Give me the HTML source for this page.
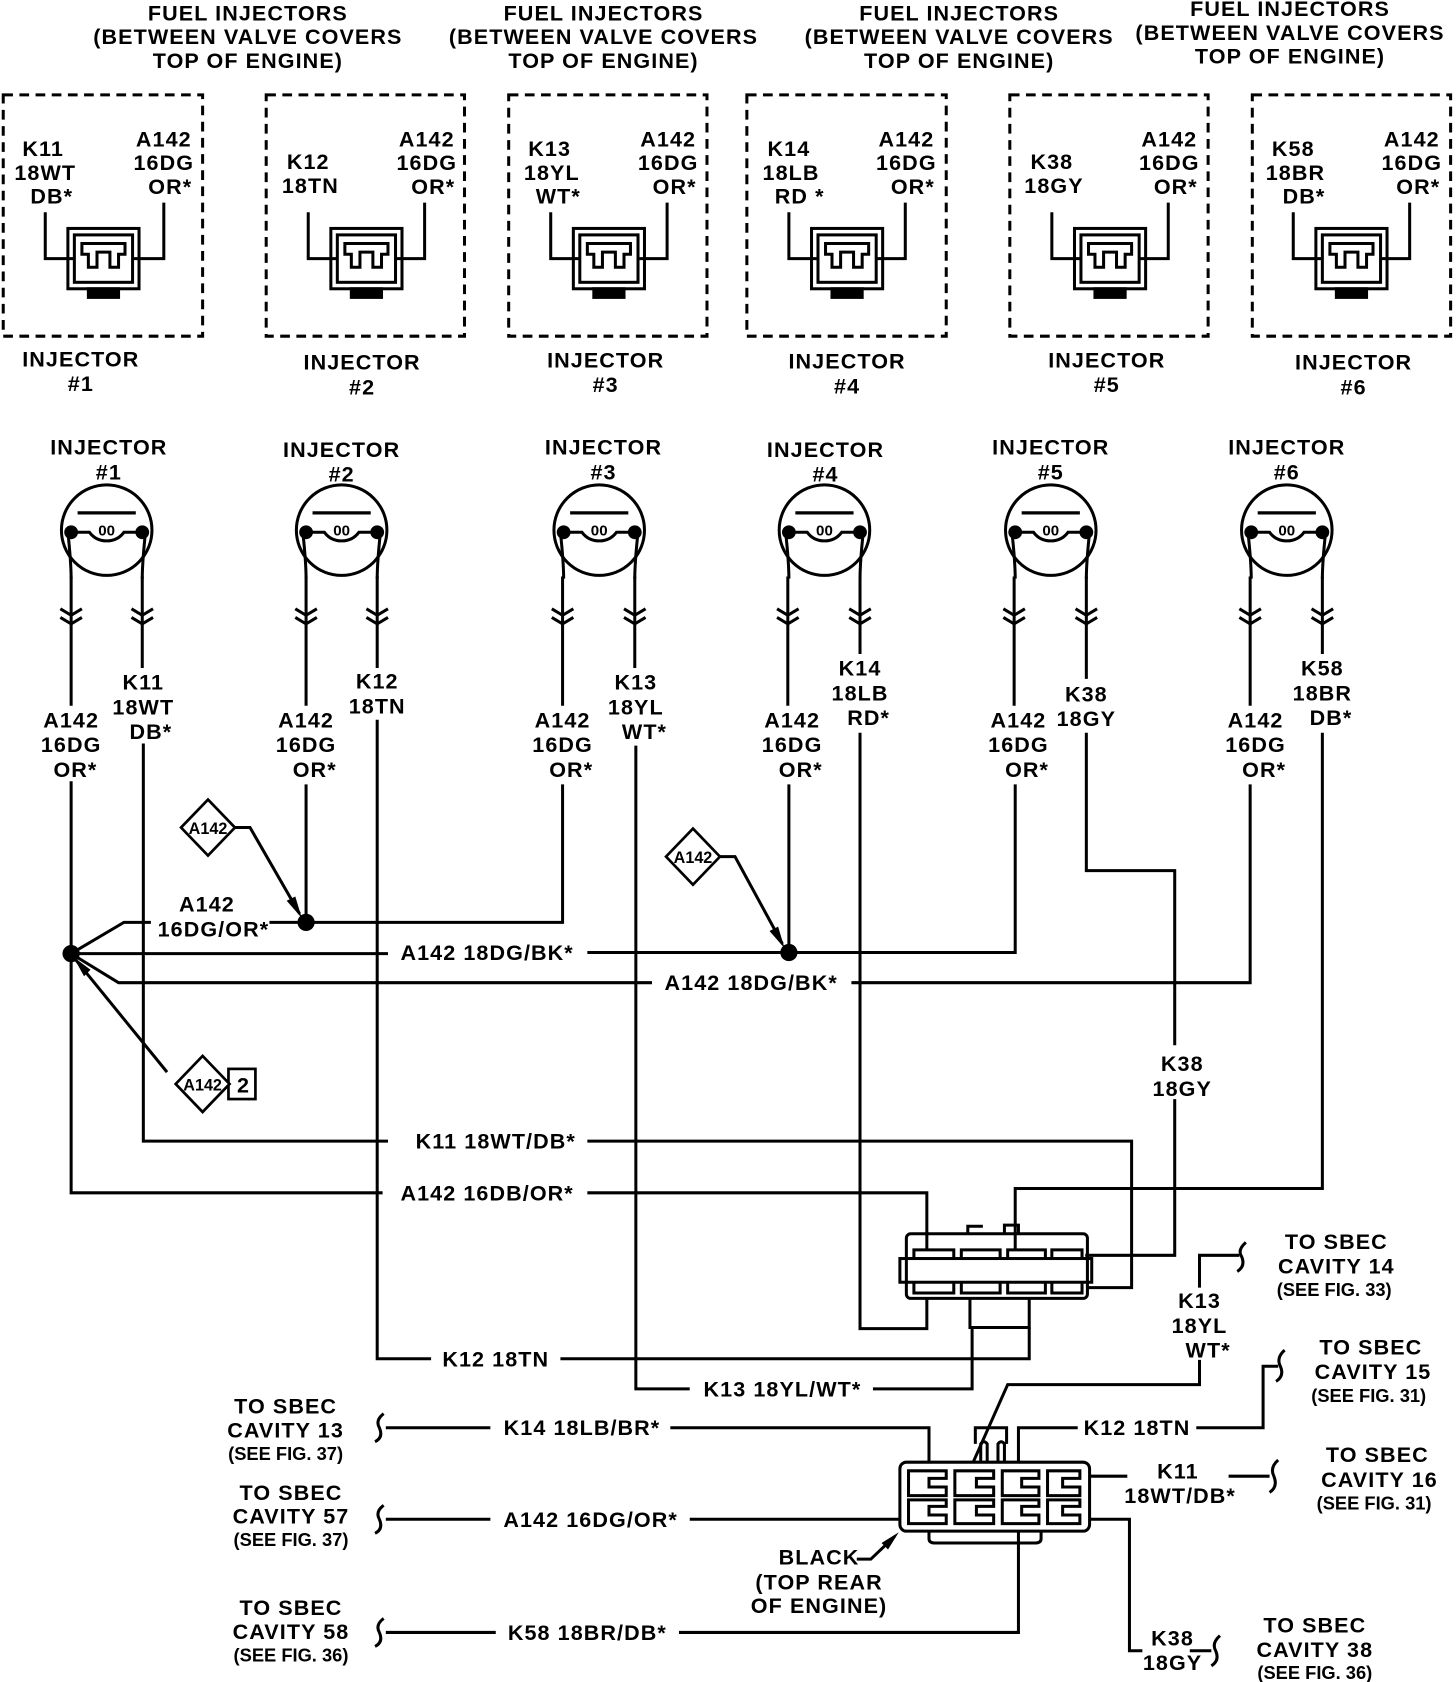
<!DOCTYPE html>
<html><head><meta charset="utf-8"><style>
html,body{margin:0;padding:0;background:#fff}
svg{display:block}
text{font-family:"Liberation Sans",sans-serif;font-weight:bold;font-size:20px;fill:#000;text-anchor:middle;letter-spacing:1px}
.s{font-size:17px;letter-spacing:0}
.o{font-size:14px;letter-spacing:0}
</style></head><body>
<svg width="1456" height="1682" viewBox="0 0 1351 1561" preserveAspectRatio="none" xmlns="http://www.w3.org/2000/svg">
<defs>
<g id="inj" fill="none" stroke="#000" stroke-width="2.8">
<circle cx="0" cy="0" r="42"/>
<line x1="-27" y1="-16" x2="27" y2="-16" stroke-width="3"/>
<path d="M-33 2 H-16 Q-10 10 0 10 Q10 10 16 2 H33"/>
<circle cx="-33" cy="2" r="5" fill="#000"/><circle cx="33" cy="2" r="5" fill="#000"/>
<path d="M-36 2 Q-33 30 -33 45 M36 2 Q33 30 33 45"/>
</g>
<g id="chev" fill="none" stroke="#000" stroke-width="2.8"><path d="M-10 0 L0 6 L10 0 M-10 8 L0 14 L10 8"/></g>
<g id="conn" fill="none" stroke="#000" stroke-width="2.8">
<rect x="-33" y="0" width="66" height="56"/>
<rect x="-27" y="6" width="54" height="44"/>
<path d="M-20 14 H20 V24 H14 V36 H6 V22 H-6 V36 H-14 V24 H-20 Z"/>
<rect x="-14" y="56" width="28" height="8" fill="#000"/>
</g>
</defs>
<g fill="none" stroke="#000" stroke-width="2.8">
<g stroke-dasharray="9,6">
<rect x="3" y="88" width="185" height="224"/><rect x="247" y="88" width="184" height="224"/>
<rect x="472" y="88" width="184" height="224"/><rect x="693" y="88" width="185" height="224"/>
<rect x="937" y="88" width="184" height="224"/><rect x="1162" y="88" width="184" height="224"/>
</g>
</g>
<use href="#conn" x="96" y="212"/><use href="#conn" x="340" y="212"/><use href="#conn" x="565" y="212"/>
<use href="#conn" x="786" y="212"/><use href="#conn" x="1030" y="212"/><use href="#conn" x="1254" y="212"/>
<g fill="none" stroke="#000" stroke-width="2.8">
<path d="M42 197 V240 H69 M152 188 V240 H123"/>
<path d="M286 197 V240 H313 M394 188 V240 H367"/>
<path d="M511 197 V240 H538 M619 188 V240 H592"/>
<path d="M732 197 V240 H759 M840 188 V240 H813"/>
<path d="M976 197 V240 H1003 M1084 188 V240 H1057"/>
<path d="M1200 197 V240 H1227 M1308 188 V240 H1281"/>
</g>
<text x="230" y="19">FUEL INJECTORS</text><text x="230" y="41">(BETWEEN VALVE COVERS</text><text x="230" y="63">TOP OF ENGINE)</text>
<text x="560" y="19">FUEL INJECTORS</text><text x="560" y="41">(BETWEEN VALVE COVERS</text><text x="560" y="63">TOP OF ENGINE)</text>
<text x="890" y="19">FUEL INJECTORS</text><text x="890" y="41">(BETWEEN VALVE COVERS</text><text x="890" y="63">TOP OF ENGINE)</text>
<text x="1197" y="15">FUEL INJECTORS</text><text x="1197" y="37">(BETWEEN VALVE COVERS</text><text x="1197" y="59">TOP OF ENGINE)</text>
<text x="40" y="145">K11</text><text x="42" y="167">18WT</text><text x="48" y="189">DB*</text>
<text x="152" y="136">A142</text><text x="152" y="158">16DG</text><text x="158" y="180">OR*</text>
<text x="286" y="157">K12</text><text x="288" y="179">18TN</text>
<text x="396" y="136">A142</text><text x="396" y="158">16DG</text><text x="402" y="180">OR*</text>
<text x="510" y="145">K13</text><text x="512" y="167">18YL</text><text x="518" y="189">WT*</text>
<text x="620" y="136">A142</text><text x="620" y="158">16DG</text><text x="626" y="180">OR*</text>
<text x="732" y="145">K14</text><text x="734" y="167">18LB</text><text x="742" y="189">RD *</text>
<text x="841" y="136">A142</text><text x="841" y="158">16DG</text><text x="847" y="180">OR*</text>
<text x="976" y="157">K38</text><text x="978" y="179">18GY</text>
<text x="1085" y="136">A142</text><text x="1085" y="158">16DG</text><text x="1091" y="180">OR*</text>
<text x="1200" y="145">K58</text><text x="1202" y="167">18BR</text><text x="1210" y="189">DB*</text>
<text x="1310" y="136">A142</text><text x="1310" y="158">16DG</text><text x="1316" y="180">OR*</text>
<text x="75" y="340">INJECTOR</text><text x="75" y="363">#1</text>
<text x="336" y="343">INJECTOR</text><text x="336" y="366">#2</text>
<text x="562" y="341">INJECTOR</text><text x="562" y="364">#3</text>
<text x="786" y="342">INJECTOR</text><text x="786" y="365">#4</text>
<text x="1027" y="341">INJECTOR</text><text x="1027" y="364">#5</text>
<text x="1256" y="343">INJECTOR</text><text x="1256" y="366">#6</text>
<text x="101" y="422">INJECTOR</text><text x="101" y="445">#1</text>
<text x="317" y="424">INJECTOR</text><text x="317" y="447">#2</text>
<text x="560" y="422">INJECTOR</text><text x="560" y="445">#3</text>
<text x="766" y="424">INJECTOR</text><text x="766" y="447">#4</text>
<text x="975" y="422">INJECTOR</text><text x="975" y="445">#5</text>
<text x="1194" y="422">INJECTOR</text><text x="1194" y="445">#6</text>
<use href="#inj" x="99" y="492"/><use href="#inj" x="317" y="492"/><use href="#inj" x="556" y="492"/>
<use href="#inj" x="765" y="492"/><use href="#inj" x="975" y="492"/><use href="#inj" x="1194" y="492"/>
<text class="o" x="99" y="497">00</text><text class="o" x="317" y="497">00</text><text class="o" x="556" y="497">00</text>
<text class="o" x="765" y="497">00</text><text class="o" x="975" y="497">00</text><text class="o" x="1194" y="497">00</text>
<g fill="none" stroke="#000" stroke-width="2.8">
<path d="M66 535 V655 M132 535 V620 M284 535 V655 M350 535 V620 M522 535 V655 M589 535 V620 M731 535 V655 M798 535 V607 M941 535 V655 M1008 535 V630 M1160 535 V655 M1227 535 V607"/>
</g>
<use href="#chev" x="66" y="565"/><use href="#chev" x="132" y="565"/><use href="#chev" x="284" y="565"/><use href="#chev" x="350" y="565"/>
<use href="#chev" x="522" y="565"/><use href="#chev" x="589" y="565"/><use href="#chev" x="731" y="565"/><use href="#chev" x="798" y="565"/>
<use href="#chev" x="941" y="565"/><use href="#chev" x="1008" y="565"/><use href="#chev" x="1160" y="565"/><use href="#chev" x="1227" y="565"/>
<text x="66" y="675">A142</text><text x="66" y="698">16DG</text><text x="70" y="721">OR*</text>
<text x="133" y="640">K11</text><text x="133" y="663">18WT</text><text x="140" y="686">DB*</text>
<text x="284" y="675">A142</text><text x="284" y="698">16DG</text><text x="292" y="721">OR*</text>
<text x="350" y="639">K12</text><text x="350" y="662">18TN</text>
<text x="522" y="675">A142</text><text x="522" y="698">16DG</text><text x="530" y="721">OR*</text>
<text x="590" y="640">K13</text><text x="590" y="663">18YL</text><text x="598" y="686">WT*</text>
<text x="735" y="675">A142</text><text x="735" y="698">16DG</text><text x="743" y="721">OR*</text>
<text x="798" y="627">K14</text><text x="798" y="650">18LB</text><text x="806" y="673">RD*</text>
<text x="945" y="675">A142</text><text x="945" y="698">16DG</text><text x="953" y="721">OR*</text>
<text x="1008" y="651">K38</text><text x="1008" y="674">18GY</text>
<text x="1165" y="675">A142</text><text x="1165" y="698">16DG</text><text x="1173" y="721">OR*</text>
<text x="1227" y="627">K58</text><text x="1227" y="650">18BR</text><text x="1235" y="673">DB*</text>
<g fill="none" stroke="#000" stroke-width="2.8">
<path d="M66 725 V1107 H355 M133 690 V1059 H360"/>
<path d="M545 1059 H1050 V1195 H1010"/>
<path d="M545 1107 H860 V1160"/>
<path d="M284 728 V856 M350 668 V1261 H400"/>
<path d="M520 1261 H955 V1232"/>
<path d="M522 728 V856 H284 M590 692 V1289 H640"/>
<path d="M810 1289 H902 V1232"/>
<path d="M732 728 V884 M798 680 V1233 H860 V1205"/>
<path d="M942 728 V884 H545 M1008 680 V808 H1090 V970 M1090 1020 V1165 H1007"/>
<path d="M1160 728 V912 H790 M1227 680 V1103 H942 V1160"/>
<path d="M66 885 L115 856 H140 M250 856 H284"/>
<path d="M66 885 H360"/>
<path d="M66 885 L110 912 H605"/>
<path d="M218 768 H232 L278 848"/>
<path d="M668 795 H682 L726 876"/>
<path d="M155 995 L68 888"/>
</g>
<g fill="#000">
<circle cx="66" cy="885" r="8"/><circle cx="284" cy="856" r="8"/><circle cx="732" cy="884" r="8"/>
<path d="M280 852 L266 836 L274 832 Z"/>
<path d="M728 880 L714 864 L722 860 Z"/>
<path d="M68 888 L84 900 L78 906 Z"/>
</g>
<text x="192" y="846">A142</text><text x="198" y="869">16DG/OR*</text>
<text x="452" y="891">A142 18DG/BK*</text>
<text x="697" y="919">A142 18DG/BK*</text>
<text x="460" y="1066">K11 18WT/DB*</text>
<text x="452" y="1114">A142 16DB/OR*</text>
<text x="460" y="1268">K12 18TN</text>
<text x="726" y="1296">K13 18YL/WT*</text>
<text x="1097" y="994">K38</text><text x="1097" y="1017">18GY</text>
<g fill="#fff" stroke="#000" stroke-width="2.5">
<path d="M193 742 L218 768 L193 794 L168 768 Z"/>
<path d="M643 769 L668 795 L643 821 L618 795 Z"/>
<rect x="212" y="992" width="25" height="28"/>
<path d="M188 980 L213 1006 L188 1032 L163 1006 Z"/>
</g>
<text class="s" x="193" y="774" style="font-size:15px">A142</text>
<text class="s" x="643" y="801" style="font-size:15px">A142</text>
<text class="s" x="188" y="1012" style="font-size:15px">A142</text>
<text x="226" y="1014">2</text>
<g fill="none" stroke="#000" stroke-width="2.8">
<rect x="841" y="1145" width="168" height="60" rx="4"/>
<rect x="835" y="1168" width="178" height="22"/>
<path d="M900 1205 V1232 H955 V1205"/>
<path d="M898 1145 V1138 H912 M932 1145 V1137 H945 V1145"/>
<path d="M848 1168 V1160 H885 V1168 M892 1168 V1160 H928 V1168 M935 1168 V1160 H970 V1168 M976 1168 V1160 H1004 V1168"/>
<path d="M848 1190 V1200 H885 V1190 M892 1190 V1200 H928 V1190 M935 1190 V1200 H970 V1190 M976 1190 V1200 H1004 V1190"/>
</g>
<g fill="none" stroke="#000" stroke-width="2.8">
<path d="M1113 1195 V1165 H1150"/>
<path d="M1156 1153 Q1148 1160 1152 1166 Q1156 1175 1148 1180"/>
<path d="M1113 1262 V1285 H935 L903 1357"/>
<path d="M945 1357 V1325 H1000 M1110 1325 H1172 V1268 H1186"/>
<path d="M1192 1253 Q1184 1260 1188 1268 Q1192 1277 1184 1282"/>
<path d="M1010 1370 H1046 M1140 1370 H1178"/>
<path d="M1186 1355 Q1178 1362 1182 1370 Q1186 1380 1178 1385"/>
<path d="M1012 1410 H1048 V1532 H1060 M1104 1532 H1124"/>
<path d="M1132 1518 Q1124 1525 1128 1532 Q1132 1541 1124 1546"/>
<rect x="835" y="1357" width="176" height="64" rx="6"/>
<path d="M862 1421 V1428 Q862 1432 868 1432 H960 Q966 1432 966 1428 V1421"/>
<path d="M910 1357 V1340 Q913 1336 916 1340 V1357 M926 1357 V1340 Q929 1336 932 1340 V1357 M905 1340 V1325 H934 V1340"/>
<path d="M843 1365 H878 V1372 H862 V1380 H878 V1388 H843 Z M886 1365 H922 V1372 H906 V1380 H922 V1388 H886 Z M930 1365 H964 V1372 H948 V1380 H964 V1388 H930 Z M972 1365 H1002 V1372 H986 V1380 H1002 V1388 H972 Z"/>
<path d="M843 1392 H878 V1398 H862 V1406 H878 V1414 H843 Z M886 1392 H922 V1398 H906 V1406 H922 V1414 H886 Z M930 1392 H964 V1398 H948 V1406 H964 V1414 H930 Z M972 1392 H1002 V1398 H986 V1406 H1002 V1414 H972 Z"/>
<path d="M358 1325 H455 M622 1325 H862 V1357"/>
<path d="M358 1410 H455 M640 1410 H835"/>
<path d="M358 1515 H460 M630 1515 H945 V1421"/>
<path d="M356 1312 Q348 1318 352 1325 Q356 1334 348 1338"/>
<path d="M356 1397 Q348 1403 352 1410 Q356 1419 348 1423"/>
<path d="M356 1502 Q348 1508 352 1515 Q356 1524 348 1528"/>
<path d="M795 1447 H808 L830 1426"/>
</g>
<path d="M834 1422 L818 1432 L824 1438 Z" fill="#000"/>
<text x="1113" y="1214">K13</text><text x="1113" y="1237">18YL</text><text x="1121" y="1260">WT*</text>
<text x="1240" y="1159">TO SBEC</text><text x="1240" y="1182">CAVITY 14</text><text class="s" x="1238" y="1203">(SEE FIG. 33)</text>
<text x="1055" y="1332">K12 18TN</text>
<text x="1272" y="1257">TO SBEC</text><text x="1274" y="1280">CAVITY 15</text><text class="s" x="1270" y="1301">(SEE FIG. 31)</text>
<text x="1093" y="1372">K11</text><text x="1095" y="1395">18WT/DB*</text>
<text x="1278" y="1357">TO SBEC</text><text x="1280" y="1380">CAVITY 16</text><text class="s" x="1275" y="1401">(SEE FIG. 31)</text>
<text x="1088" y="1527">K38</text><text x="1088" y="1550">18GY</text>
<text x="1220" y="1515">TO SBEC</text><text x="1220" y="1538">CAVITY 38</text><text class="s" x="1220" y="1558">(SEE FIG. 36)</text>
<text x="265" y="1312">TO SBEC</text><text x="265" y="1334">CAVITY 13</text><text class="s" x="265" y="1355">(SEE FIG. 37)</text>
<text x="270" y="1392">TO SBEC</text><text x="270" y="1414">CAVITY 57</text><text class="s" x="270" y="1435">(SEE FIG. 37)</text>
<text x="270" y="1499">TO SBEC</text><text x="270" y="1521">CAVITY 58</text><text class="s" x="270" y="1542">(SEE FIG. 36)</text>
<text x="540" y="1332">K14 18LB/BR*</text>
<text x="548" y="1417">A142 16DG/OR*</text>
<text x="545" y="1522">K58 18BR/DB*</text>
<text x="760" y="1452">BLACK</text><text x="760" y="1475">(TOP REAR</text><text x="760" y="1497">OF ENGINE)</text>
</svg>
</body></html>
